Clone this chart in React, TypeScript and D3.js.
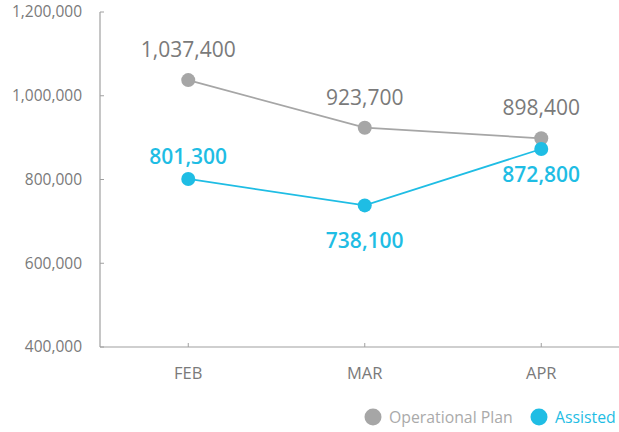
import React from "react";
import * as d3 from "d3";

const categories = ["FEB", "MAR", "APR"];
const operationalPlan = [1037400, 923700, 898400];
const assisted = [801300, 738100, 872800];
const yTicks = [400000, 600000, 800000, 1000000, 1200000];
const seriesNames = ["Operational Plan", "Assisted"];

const W = 619;
const H = 432;
const GREY = "#a6a6a6";
const GREY_TEXT = "#7a7a7a";
const BLUE = "#1fbde4";
const AXIS = "#a0a0a0";
const FONT = "'Open Sans', sans-serif";

export default function App() {
  const x = d3.scalePoint<string>().domain(categories).range([100, 629.5]).padding(0.5);
  const y = d3.scaleLinear().domain([400000, 1200000]).range([347, 12]);
  const fmt = d3.format(",");
  const line = d3
    .line<number>()
    .x((_, i) => x(categories[i]) as number)
    .y((d) => y(d));
  const blueOffsets = [-15, 43, 33];

  return (
    <svg width={W} height={H} style={{ position: "absolute", left: 0, top: 0, fontFamily: FONT }}>
      {/* y axis */}
      <line x1={100} x2={100} y1={y(1200000)} y2={y(400000)} stroke={AXIS} strokeWidth={1.2} />
      {yTicks.map((t) => (
        <g key={t}>
          <line x1={100} x2={104} y1={y(t)} y2={y(t)} stroke={AXIS} strokeWidth={1} />
          <text x={82} y={y(t)} dy="0.35em" textAnchor="end" fontSize={15.5} fill={GREY_TEXT}>
            {fmt(t)}
          </text>
        </g>
      ))}
      {/* x axis */}
      <line x1={100} x2={W} y1={347} y2={347} stroke={AXIS} strokeWidth={1.2} />
      {categories.map((c) => (
        <g key={c}>
          <line x1={x(c)} x2={x(c)} y1={347} y2={343} stroke={AXIS} strokeWidth={1} />
          <text x={x(c)} y={373} dy="0.35em" textAnchor="middle" fontSize={16.5} fill={GREY_TEXT}>
            {c}
          </text>
        </g>
      ))}
      {/* lines */}
      <path d={line(operationalPlan) || ""} fill="none" stroke={GREY} strokeWidth={1.8} />
      <path d={line(assisted) || ""} fill="none" stroke={BLUE} strokeWidth={1.8} />
      {operationalPlan.map((v, i) => (
        <g key={"op" + i}>
          <circle cx={x(categories[i])} cy={y(v)} r={7} fill={GREY} />
          <text x={x(categories[i])} y={y(v) - 23} textAnchor="middle" fontSize={21} fill={GREY_TEXT}>
            {fmt(v)}
          </text>
        </g>
      ))}
      {assisted.map((v, i) => (
        <g key={"as" + i}>
          <circle cx={x(categories[i])} cy={y(v)} r={7} fill={BLUE} />
          <text
            x={x(categories[i])}
            y={y(v) + blueOffsets[i]}
            textAnchor="middle"
            fontSize={21}
            fontWeight={600}
            fill={BLUE}
          >
            {fmt(v)}
          </text>
        </g>
      ))}
      {/* legend */}
      <circle cx={373} cy={417} r={8.5} fill={GREY} />
      <text x={389} y={417} dy="0.35em" fontSize={15.8} fill="#aaaaaa">
        {seriesNames[0]}
      </text>
      <circle cx={539} cy={417} r={8.5} fill={BLUE} />
      <text x={555} y={417} dy="0.35em" fontSize={15.8} fill={BLUE}>
        {seriesNames[1]}
      </text>
    </svg>
  );
}
